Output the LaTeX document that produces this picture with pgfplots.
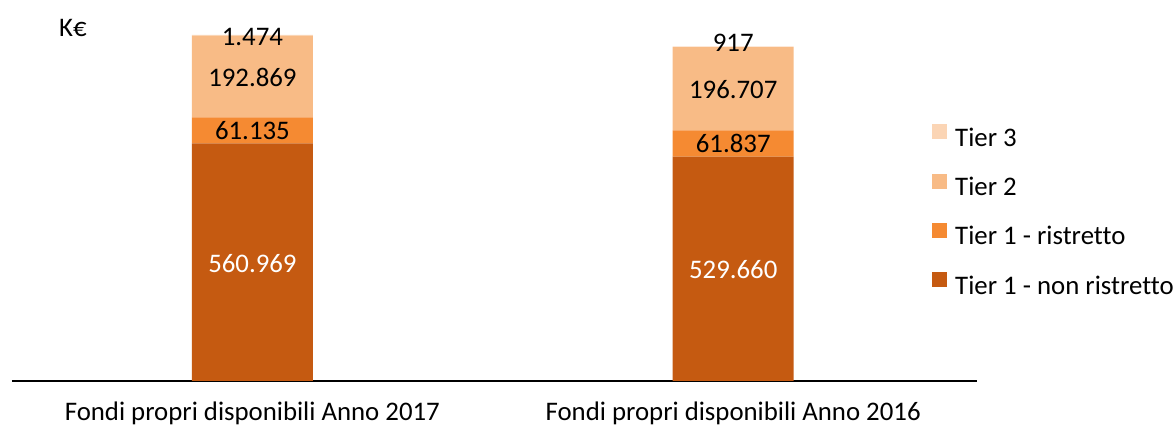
\documentclass[border=0pt]{standalone}
\usepackage{pgfplots}
\pgfplotsset{compat=1.18}
\usepackage{fontspec}
\setmainfont{Carlito}[Ligatures=NoCommon]
\definecolor{tnr}{HTML}{C55A11}
\definecolor{tr}{HTML}{F58A32}
\definecolor{ttwo}{HTML}{F8BB86}
\definecolor{tthree}{HTML}{FBD5B5}
\newcommand{\bigf}{\fontsize{26.8}{32}\selectfont}
\pgfplotsset{
  base/.style={
    at={(0pt,0pt)}, anchor=south west,
    scale only axis, width=965pt, height=361pt,
    xmin=-0.5, xmax=1.507, ymin=0, ymax=851840,
    clip=false,
  },
  legsq/.style={legend image code/.code={\fill[##1] (0pt,-1.5pt) rectangle (15pt,13.5pt);}},
}
\begin{document}
\begin{tikzpicture}[font=\bigf]
\useasboundingbox (-12pt,-46pt) rectangle (1162pt,381pt);
\begin{axis}[base,
  ybar stacked, bar width=121pt,
  axis x line*=bottom, axis y line=none,
  x axis line style={line width=1.5pt, black},
  xtick={0,1},
  xticklabels={Fondi propri disponibili Anno 2017, Fondi propri disponibili Anno 2016},
  xtick style={draw=none}, ytick=\empty,
  xticklabel style={anchor=base, yshift=-40pt, font=\bigf},
  reverse legend,
  legend cell align=left,
  legend style={at={(0.9534,0.4723)}, anchor=west, draw=none, fill=none,
    inner sep=0pt, row sep=25pt, font=\bigf,
    nodes={inner sep=1pt},
    /tikz/every odd column/.append style={column sep=7pt}},
]
\addplot[fill=tnr, draw=none, legsq] coordinates {(0,560969) (1,529660)};
\addplot[fill=tr, draw=none, legsq] coordinates {(0,61135) (1,61837)};
\addplot[fill=ttwo, draw=none, legsq] coordinates {(0,192869) (1,196707)};
\addplot[fill=tthree, draw=none, legsq] coordinates {(0,1474) (1,917)};
\legend{Tier 1 - non ristretto, Tier 1 - ristretto, Tier 2, Tier 3}
\node[anchor=center, font=\bigf] at (rel axis cs:0.0632,0.978) {K€};
\end{axis}
\begin{axis}[base, hide axis]
\addplot[only marks, mark=none, nodes near coords, point meta=explicit symbolic,
  nodes near coords style={anchor=center, text=white, font=\bigf}]
  coordinates {(0,278000) [560.969] (1,262000) [529.660]};
\addplot[only marks, mark=none, nodes near coords, point meta=explicit symbolic,
  nodes near coords style={anchor=center, text=black, font=\bigf}]
  coordinates {(0,591537) [61.135] (1,560578) [61.837]
               (0,716000) [192.869] (1,688000) [196.707]
               (0,811700) [1.474] (1,797500) [917]};
\end{axis}
\end{tikzpicture}
\end{document}
